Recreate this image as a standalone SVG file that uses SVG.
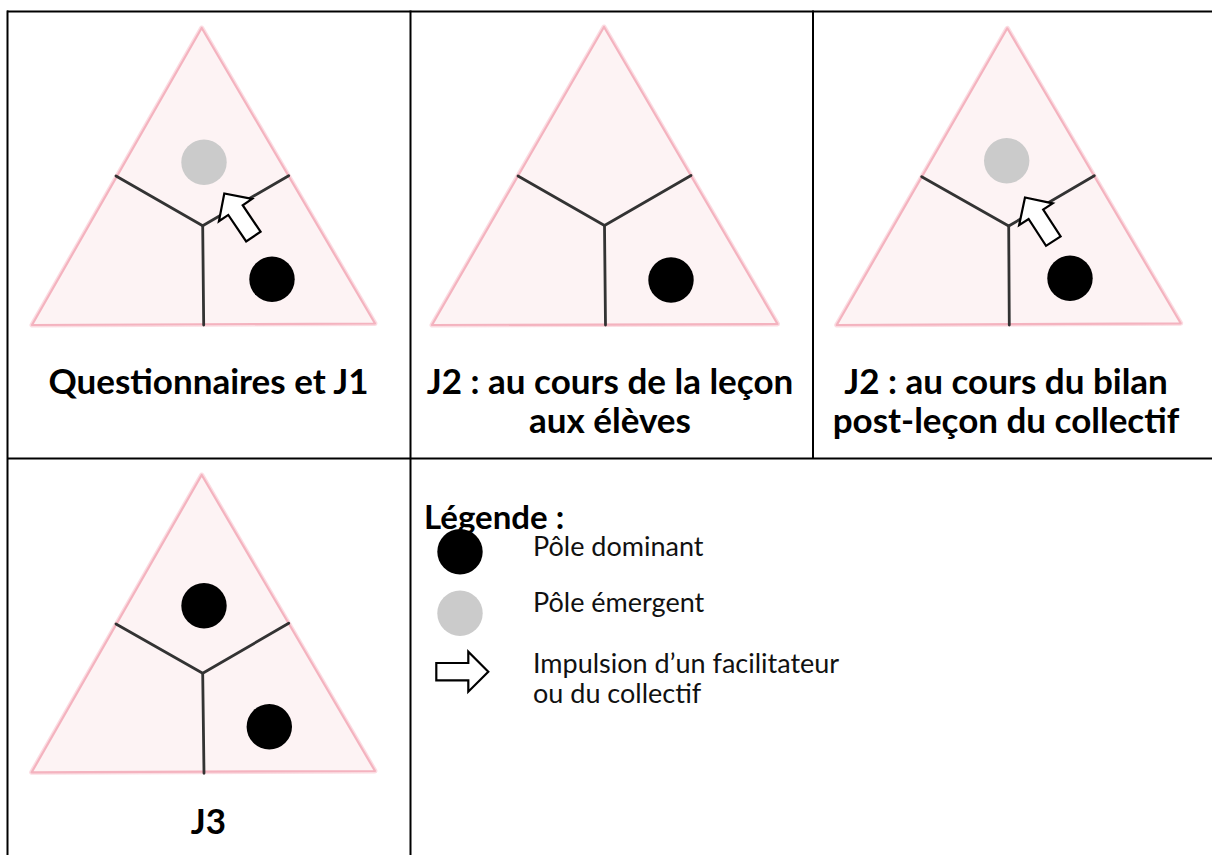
<svg xmlns="http://www.w3.org/2000/svg" xmlns:xlink="http://www.w3.org/1999/xlink" width="1212" height="855" viewBox="0 0 1212 855">
<style>
.tri-glow{fill:none;stroke:#f9cdd5;stroke-width:5;stroke-linejoin:round;opacity:0.7}
.tri{fill:#fdf3f4;stroke:#f4b3bf;stroke-width:2.2;stroke-linejoin:round}
.axis{fill:none;stroke:#333;stroke-width:2.8;stroke-linecap:round;stroke-linejoin:round}
.dom{fill:#000}
.emg{fill:#cbcbcb}
.arrow{fill:#fff;stroke:#000;stroke-width:2.2;stroke-linejoin:miter}
.grid{stroke:#000;stroke-width:2;fill:none}
.title{font-family:Lato,"Liberation Sans",sans-serif;font-weight:bold;font-size:35px;fill:#000;text-anchor:middle}
.leg{font-family:Lato,"Liberation Sans",sans-serif;font-size:27px;fill:#111}
.legtitle{font-family:Lato,"Liberation Sans",sans-serif;font-weight:bold;font-size:33px;fill:#000}
</style>
<defs>
<path id="arr" d="M0,0 L-20,-20 L-20,-8.7 L-52,-8.7 L-52,8.7 L-20,8.7 L-20,20 Z"/>
</defs>
<rect width="1212" height="855" fill="#fff"/>
<g id="table">
<line class="grid" x1="7" y1="11.5" x2="1212" y2="11.5"/>
<line class="grid" x1="7.5" y1="10.5" x2="7.5" y2="855"/>
<line class="grid" x1="410.5" y1="10.5" x2="410.5" y2="855"/>
<line class="grid" x1="813" y1="10.5" x2="813" y2="459"/>
<line class="grid" x1="7" y1="458.5" x2="1212" y2="458.5"/>
</g>
<g id="tri1">
<polygon class="tri-glow" points="201.7,28 32,325 375,323.5"/>
<polygon class="tri" points="201.7,28 32,325 375,323.5"/>
<polyline class="axis" points="116,176 202.7,225.7 288.7,175.7"/>
<line class="axis" x1="202.7" y1="225.7" x2="203.7" y2="325"/>
<circle class="emg" cx="204" cy="162.3" r="22.7"/>
<circle class="dom" cx="272" cy="279.3" r="22.7"/>
<use href="#arr" class="arrow" transform="translate(224.3,193.5) rotate(-124)"/>
</g>
<g id="tri2">
<polygon class="tri-glow" points="604,27 432,325 777.5,324"/>
<polygon class="tri" points="604,27 432,325 777.5,324"/>
<polyline class="axis" points="518,176 604.5,225.5 691,175.5"/>
<line class="axis" x1="604.5" y1="225.5" x2="605.5" y2="325"/>
<circle class="dom" cx="671" cy="280" r="22.7"/>
</g>
<g id="tri3">
<polygon class="tri-glow" points="1007.3,28.3 836.7,325 1180.7,323.3"/>
<polygon class="tri" points="1007.3,28.3 836.7,325 1180.7,323.3"/>
<polyline class="axis" points="921.7,176.7 1008.7,226 1094.3,175.7"/>
<line class="axis" x1="1008.7" y1="226" x2="1009.3" y2="325"/>
<circle class="emg" cx="1006.7" cy="160.7" r="22.7"/>
<circle class="dom" cx="1070" cy="278.3" r="22.7"/>
<use href="#arr" class="arrow" transform="translate(1025,197.5) rotate(-123)"/>
</g>
<g id="tri4">
<polygon class="tri-glow" points="201.7,475 31.7,772.3 375,771"/>
<polygon class="tri" points="201.7,475 31.7,772.3 375,771"/>
<polyline class="axis" points="116,624 202.7,673.3 288.7,623.3"/>
<line class="axis" x1="202.7" y1="673.3" x2="204" y2="773.3"/>
<circle class="dom" cx="204" cy="605.7" r="22.7"/>
<circle class="dom" cx="269.3" cy="726.7" r="22.7"/>
</g>
<g id="labels">
<text class="title" x="208.5" y="394">Questionnaires et J1</text>
<text class="title" x="610" y="394">J2 : au cours de la leçon</text>
<text class="title" x="610" y="433">aux élèves</text>
<text class="title" x="1006" y="394">J2 : au cours du bilan</text>
<text class="title" x="1006" y="433">post-leçon du collectif</text>
<text class="title" x="208.5" y="834">J3</text>
</g>
<g id="legend">
<text class="legtitle" x="424" y="529">Légende :</text>
<circle class="dom" cx="460" cy="551.7" r="22.7"/>
<text class="leg" x="533" y="556">Pôle dominant</text>
<circle class="emg" cx="460" cy="613.3" r="22.7"/>
<text class="leg" x="533" y="612">Pôle émergent</text>
<use href="#arr" class="arrow" transform="translate(488.3,671.7)"/>
<text class="leg" x="533" y="673">Impulsion d’un facilitateur</text>
<text class="leg" x="533" y="703">ou du collectif</text>
</g>
</svg>
